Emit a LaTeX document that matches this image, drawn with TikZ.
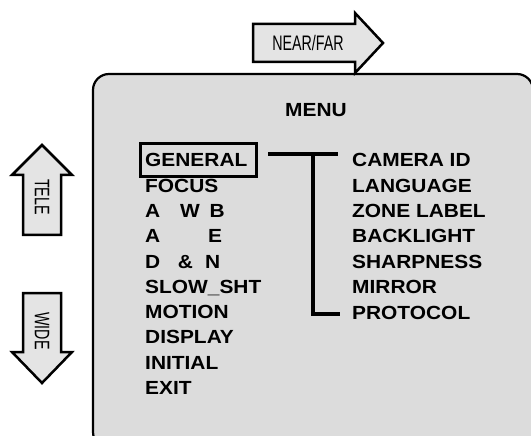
\documentclass[tikz,border=0pt]{standalone}
\usepackage{fontspec}
\setmainfont{Liberation Sans}
\newcommand{\mtx}[1]{\scalebox{1.1}[1]{\fontsize{19bp}{22bp}\selectfont\bfseries #1}}
\newcommand{\atx}[1]{\scalebox{0.68}[1]{\fontsize{21bp}{24bp}\selectfont #1}}
\definecolor{boxgray}{HTML}{DCDCDC}
\definecolor{arrgray}{HTML}{E4E4E4}
\tikzset{
  menubox/.style={draw=black, line width=2.2bp, fill=boxgray, rounded corners=16bp},
  bigarrow/.style={draw=black, line width=2.5bp, fill=arrgray, line join=miter},
  item/.style={anchor=base west, inner sep=0pt},
  conn/.style={draw=black, line width=3.5bp, line join=miter},
}
\begin{document}
\begin{tikzpicture}[x=1bp, y=-1bp]
\useasboundingbox (0,0) rectangle (531,436);
\clip (0,0) rectangle (531,436);
\fill[white] (0,0) rectangle (531,436);
% main menu box
\path[menubox] (93,74) rectangle (533,448);
% NEAR/FAR arrow
\path[bigarrow] (253,24) -- (355,24) -- (355,13) -- (383,43) -- (355,73) -- (355,62) -- (253,62) -- cycle;
\node[inner sep=0pt] (nf) at (308,43) {\atx{NEAR/FAR}};
% TELE arrow
\path[bigarrow] (23,235) -- (23,175) -- (12,175) -- (42,145) -- (72,175) -- (61,175) -- (61,235) -- cycle;
\node[inner sep=0pt, rotate=-90] (tele) at (42,197) {\atx{TELE}};
% WIDE arrow
\path[bigarrow] (23,293) -- (61,293) -- (61,352) -- (72,352) -- (42,383) -- (12,352) -- (23,352) -- cycle;
\node[inner sep=0pt, rotate=-90] (wide) at (42,331) {\atx{WIDE}};
% title
\node[inner sep=0pt, anchor=base] (menu) at (316,117) {\mtx{MENU}};
% left column
\node[item] (general) at (145,166.8) {\mtx{GENERAL}};
\node[item] (focus) at (145,192.1) {\mtx{FOCUS}};
\node[item] (awb) at (145,217.4) {\mtx{A\hspace{18bp}W\hspace{9bp}B}};
\node[item] (ae) at (145,242.7) {\mtx{A\hspace{43.5bp}E}};
\node[item] (dn) at (145,268) {\mtx{D\hspace{16bp}\&\hspace{11bp}N}};
\node[item] (slow) at (145,293.3) {\mtx{SLOW\_SHT}};
\node[item] (motion) at (145,318.6) {\mtx{MOTION}};
\node[item] (display) at (145,343.9) {\mtx{DISPLAY}};
\node[item] (initial) at (145,369.2) {\mtx{INITIAL}};
\node[item] (exit) at (145,394.5) {\mtx{EXIT}};
% right column
\node[item] (cam) at (352,166.8) {\mtx{CAMERA ID}};
\node[item] (lang) at (352,192.2) {\mtx{LANGUAGE}};
\node[item] (zone) at (352,217.6) {\mtx{ZONE LABEL}};
\node[item] (back) at (352,243) {\mtx{BACKLIGHT}};
\node[item] (sharp) at (352,268.4) {\mtx{SHARPNESS}};
\node[item] (mirror) at (352,293.8) {\mtx{MIRROR}};
\node[item] (proto) at (352,319.2) {\mtx{PROTOCOL}};
% selection box around GENERAL
\node[draw=black, line width=3bp, minimum width=116bp, minimum height=33bp, inner sep=0pt] (gbox) at (198.5,160) {};
% connector
\coordinate (ta) at (268,154);
\coordinate (tb) at (338,154);
\coordinate (va) at (313,154);
\coordinate (vb) at (313,314);
\coordinate (pe) at (340,314);
\draw[conn] (ta) -- (tb);
\draw[conn] (va) -- (vb) -- (pe);
\end{tikzpicture}
\end{document}
